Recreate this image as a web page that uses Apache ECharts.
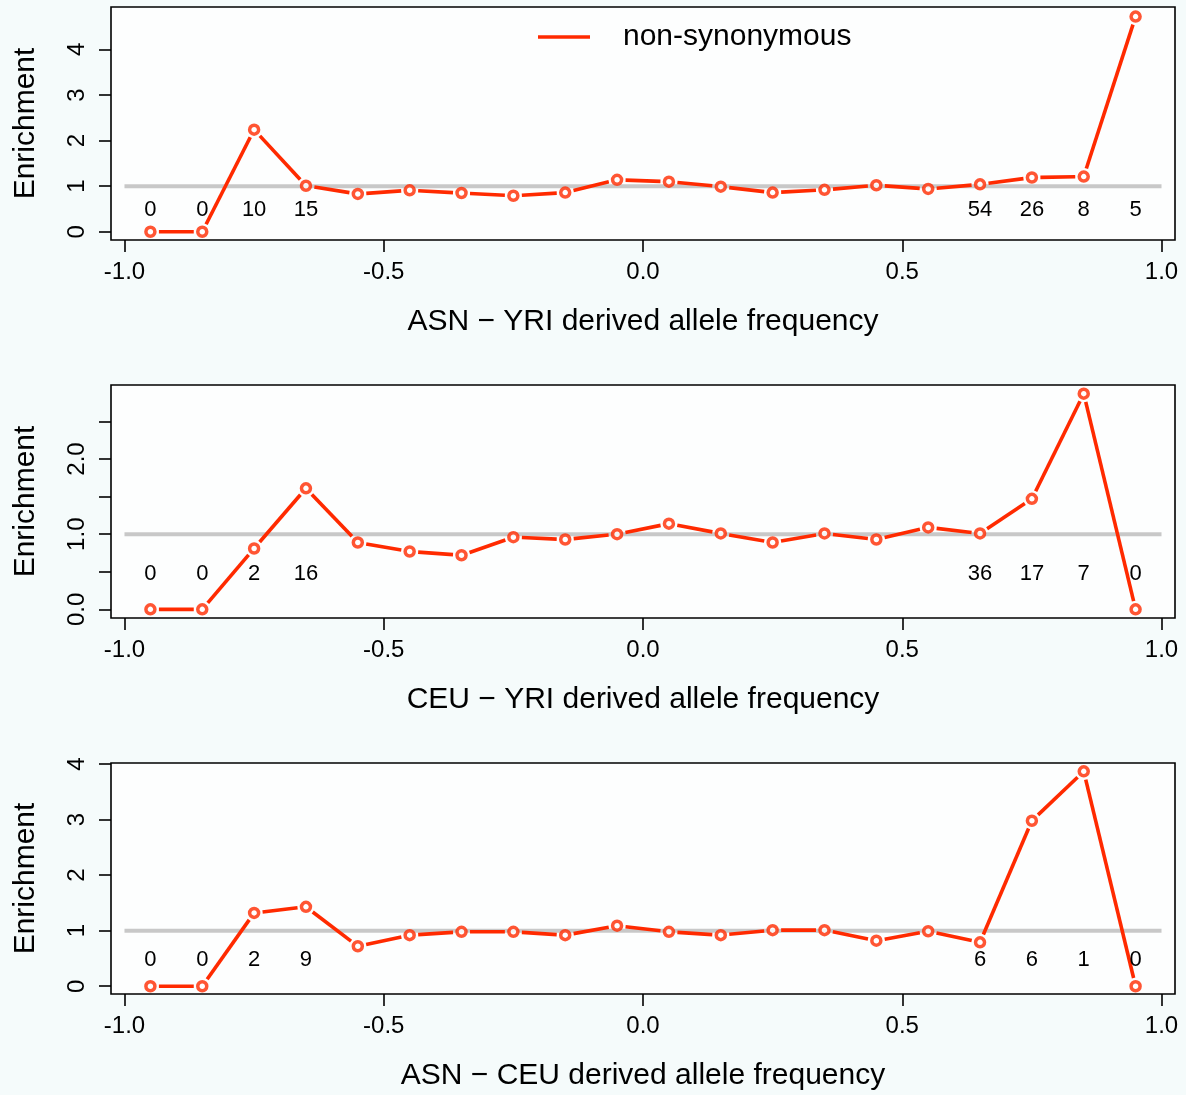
<!DOCTYPE html>
<html><head><meta charset="utf-8">
<script src="https://cdn.jsdelivr.net/npm/echarts@6/dist/echarts.min.js"></script>
<style>html,body{margin:0;padding:0;background:#f5fbfb}#c{width:1186px;height:1095px}</style>
</head><body><div id="c"></div>
<script>
// ---------- data ----------
const freqBins = [-0.95,-0.85,-0.75,-0.65,-0.55,-0.45,-0.35,-0.25,-0.15,-0.05,0.05,0.15,0.25,0.35,0.45,0.55,0.65,0.75,0.85,0.95];
const enrichASN_YRI = [0,0,2.24,1.01,0.83,0.91,0.85,0.79,0.86,1.14,1.10,0.99,0.86,0.92,1.02,0.94,1.04,1.19,1.21,4.72];
const enrichCEU_YRI = [0,0,0.81,1.61,0.89,0.77,0.72,0.96,0.93,1.00,1.14,1.01,0.89,1.01,0.93,1.09,1.01,1.47,2.87,0];
const enrichASN_CEU = [0,0,1.32,1.43,0.72,0.92,0.98,0.98,0.92,1.09,0.98,0.92,1.01,1.01,0.82,0.99,0.79,2.98,3.87,0];
const countBins = [-0.95,-0.85,-0.75,-0.65,0.65,0.75,0.85,0.95];
const countsASN_YRI = [0,0,10,15,54,26,8,5];
const countsCEU_YRI = [0,0,2,16,36,17,7,0];
const countsASN_CEU = [0,0,2,9,6,6,1,0];
const xTicks = [-1,-0.5,0,0.5,1];
const yTicks1 = [0,1,2,3,4];
const yTicks2 = [0,0.5,1,1.5,2,2.5];
const yLabels2 = [0,1,2];
const yTicks3 = [0,1,2,3,4];
const refX = [-1,1];
const refY = 1;
const xTitles = ['ASN \u2212 YRI derived allele frequency','CEU \u2212 YRI derived allele frequency','ASN \u2212 CEU derived allele frequency'];
const yTitle = 'Enrichment';
const seriesName = 'non-synonymous';

// ---------- style ----------
const RED = '#ff2a00';
const FONT = '"Liberation Sans", Arial, Helvetica, sans-serif';
const PLOT_BG = '#fdfefe';
const COUNT_Y = 0.47;

const panels = [
  {top:7, height:233, ymin:-0.18, ymax:4.93, ticks:yTicks1, labels:yTicks1, fmt:v=>String(v), vals:enrichASN_YRI, counts:countsASN_YRI},
  {top:385, height:233, ymin:-0.115, ymax:2.985, ticks:yTicks2, labels:yLabels2, fmt:v=>v.toFixed(1), vals:enrichCEU_YRI, counts:countsCEU_YRI},
  {top:763, height:231, ymin:-0.14, ymax:4.02, ticks:yTicks3, labels:yTicks3, fmt:v=>String(v), vals:enrichASN_CEU, counts:countsASN_CEU}
];

function segRender(params, api){
  const p1 = api.coord([api.value(0), api.value(1)]);
  const p2 = api.coord([api.value(2), api.value(3)]);
  const dx = p2[0]-p1[0], dy = p2[1]-p1[1];
  const L = Math.hypot(dx,dy);
  const gap = 8.5;
  if (L <= 2*gap) return {type:'group', children:[]};
  const ux = dx/L, uy = dy/L;
  return {type:'line', shape:{x1:p1[0]+ux*gap, y1:p1[1]+uy*gap, x2:p2[0]-ux*gap, y2:p2[1]-uy*gap},
    style:{stroke:RED, lineWidth:3.6, lineCap:'butt'}};
}
function textRender(params, api){
  const p = api.coord([api.value(0), COUNT_Y]);
  return {type:'text', style:{text:String(api.value(1)), x:p[0], y:p[1], align:'center', verticalAlign:'middle',
    fontSize:22, fontFamily:FONT, fill:'#000'}};
}

const grid=[], xAxis=[], yAxis=[], series=[];
panels.forEach((p,i)=>{
  grid.push({left:111, right:11, top:p.top, height:p.height, show:true, backgroundColor:PLOT_BG, borderColor:'#000', borderWidth:1.6});
  xAxis.push({type:'value', gridIndex:i, min:-1.026, max:1.026, position:'bottom',
    axisLine:{show:false, onZero:false}, splitLine:{show:false},
    axisTick:{show:true, length:12, inside:false, customValues:xTicks, lineStyle:{color:'#000', width:1.6}},
    axisLabel:{show:true, customValues:xTicks, margin:20, fontSize:24, fontFamily:FONT, color:'#000', formatter:v=>v.toFixed(1)},
    name:xTitles[i], nameLocation:'middle', nameGap:67, nameTextStyle:{fontSize:30, fontFamily:FONT, color:'#000'}});
  yAxis.push({type:'value', gridIndex:i, min:p.ymin, max:p.ymax, position:'left',
    axisLine:{show:false, onZero:false}, splitLine:{show:false},
    axisTick:{show:true, length:12, inside:false, customValues:p.ticks, lineStyle:{color:'#000', width:1.6}},
    axisLabel:{show:true, customValues:p.labels, rotate:90, margin:22, fontSize:24, fontFamily:FONT, color:'#000', formatter:p.fmt},
    name:yTitle, nameLocation:'middle', nameRotate:90, nameGap:70, nameTextStyle:{fontSize:30, fontFamily:FONT, color:'#000'}});
  // reference line at 1
  series.push({type:'line', xAxisIndex:i, yAxisIndex:i, data:refX.map(x=>[x,refY]), symbol:'none', silent:true,
    lineStyle:{color:'#c8c8c8', width:4}, z:1});
  // connecting segments (R type="b")
  const segs = freqBins.slice(0,-1).map((x,k)=>[x, p.vals[k], freqBins[k+1], p.vals[k+1]]);
  series.push({type:'custom', name: i===0 ? seriesName : seriesName+i, xAxisIndex:i, yAxisIndex:i, data:segs,
    renderItem:segRender, encode:{x:[0,2], y:[1,3]}, itemStyle:{color:RED}, silent:true, z:2});
  // open circles
  series.push({type:'scatter', xAxisIndex:i, yAxisIndex:i, data:freqBins.map((x,k)=>[x,p.vals[k]]),
    symbol:'circle', symbolSize:9, itemStyle:{color:'#fff', borderColor:RED, borderWidth:3.5}, silent:true, z:3});
  // count labels
  series.push({type:'custom', xAxisIndex:i, yAxisIndex:i, data:countBins.map((x,k)=>[x,p.counts[k]]),
    renderItem:textRender, encode:{x:0}, silent:true, z:4});
});

const chart = echarts.init(document.getElementById('c'), null, {renderer:'canvas'});
chart.setOption({
  backgroundColor:'#f5fbfb',
  animation:false,
  grid, xAxis, yAxis, series,
  legend:{show:true, left:533, top:17, selectedMode:false, itemWidth:52, itemHeight:3.5,
    data:[{name:seriesName, icon:'rect', itemStyle:{color:RED}}],
    textStyle:{fontSize:30, fontFamily:FONT, color:'#000', padding:[0,0,0,28]}}
});
</script></body></html>
